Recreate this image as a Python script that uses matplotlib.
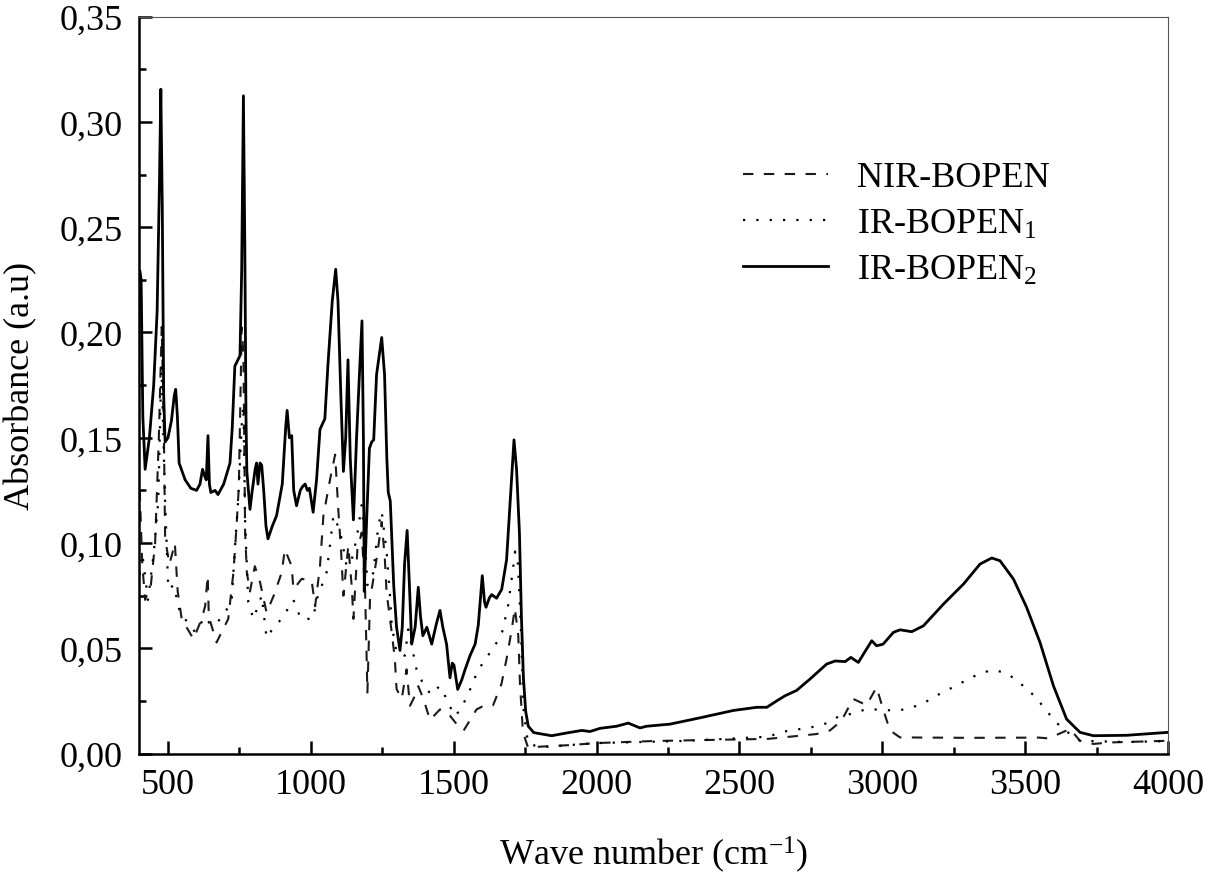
import numpy as np
import matplotlib
matplotlib.use("Agg")
import matplotlib.pyplot as plt
from matplotlib.ticker import MultipleLocator, FuncFormatter

plt.rcParams['font.family'] = ['Liberation Serif', 'DejaVu Serif']
plt.rcParams['mathtext.fontset'] = 'custom'
plt.rcParams['mathtext.rm'] = 'Liberation Serif'
plt.rcParams['mathtext.it'] = 'Liberation Serif:italic'

# IR-BOPEN2 (solid)
wn_ir2 = [402, 406, 412, 420, 435, 450, 462, 470, 475, 480, 485, 490, 500, 512, 522, 527, 533, 539,
          560, 580, 600, 612, 621, 628, 634, 640, 645, 650, 665, 675, 695, 717, 725, 734, 752, 758,
          764, 769, 773, 776, 787, 795, 805, 810, 815, 822, 828, 835, 843, 850, 865, 880, 900, 912,
          917, 925, 933, 940, 950, 963, 972, 980, 988, 995, 1008, 1020, 1032, 1049, 1060, 1075, 1087,
          1095, 1105, 1114, 1122, 1130, 1138, 1149, 1160, 1170, 1179, 1184, 1187, 1195, 1205, 1213,
          1220, 1230, 1248, 1258, 1266, 1271, 1278, 1290, 1300, 1312, 1320, 1328, 1337, 1345, 1353,
          1365, 1376, 1384, 1392, 1406, 1423, 1440, 1452, 1462, 1475, 1487, 1495, 1501, 1514, 1528,
          1540, 1557, 1575, 1586, 1600, 1608, 1613, 1625, 1633, 1650, 1668, 1685, 1700, 1711, 1720,
          1730, 1737, 1744, 1752, 1761, 1780, 1800, 1843, 1895, 1948, 1977, 2012, 2070, 2111, 2152,
          2175, 2257, 2362, 2479, 2561, 2596, 2630, 2660, 2700, 2747, 2805, 2835, 2870, 2890, 2916,
          2963, 2980, 3003, 3039, 3062, 3103, 3144, 3214, 3284, 3342, 3383, 3412, 3459, 3505, 3552,
          3599, 3645, 3692, 3739, 3855, 4000]
abs_ir2 = [0.229, 0.225, 0.160, 0.135, 0.150, 0.175, 0.210, 0.270, 0.3155, 0.260, 0.170, 0.148, 0.150,
           0.158, 0.170, 0.173, 0.160, 0.138, 0.130, 0.126, 0.125, 0.128, 0.135, 0.132, 0.130, 0.151,
           0.128, 0.124, 0.125, 0.123, 0.128, 0.138, 0.155, 0.184, 0.189, 0.230, 0.3124, 0.240, 0.160,
           0.134, 0.116, 0.125, 0.135, 0.138, 0.128, 0.138, 0.137, 0.125, 0.108, 0.102, 0.108, 0.113,
           0.128, 0.155, 0.163, 0.150, 0.151, 0.125, 0.1177, 0.125, 0.127, 0.128, 0.125, 0.126, 0.1146,
           0.130, 0.154, 0.159, 0.185, 0.215, 0.230, 0.215, 0.170, 0.134, 0.150, 0.187, 0.140, 0.111,
           0.150, 0.180, 0.2055, 0.150, 0.077, 0.110, 0.145, 0.148, 0.149, 0.180, 0.1976, 0.180, 0.140,
           0.124, 0.120, 0.080, 0.060, 0.049, 0.060, 0.090, 0.106, 0.080, 0.052, 0.060, 0.079, 0.065,
           0.056, 0.060, 0.052, 0.062, 0.068, 0.060, 0.052, 0.036, 0.043, 0.042, 0.0305, 0.035, 0.040,
           0.0465, 0.052, 0.061, 0.0845, 0.072, 0.0695, 0.074, 0.0755, 0.0738, 0.078, 0.092, 0.125,
           0.149, 0.135, 0.105, 0.065, 0.036, 0.020, 0.013, 0.010, 0.0095, 0.0085, 0.0098, 0.011,
           0.0105, 0.012, 0.013, 0.0145, 0.0122, 0.013, 0.014, 0.017, 0.0205, 0.022, 0.022, 0.025,
           0.0275, 0.030, 0.0354, 0.0425, 0.044, 0.0437, 0.0457, 0.0433, 0.0536, 0.0512, 0.052, 0.0576,
           0.0588, 0.0579, 0.0607, 0.071, 0.0805, 0.090, 0.0929, 0.0916, 0.0829, 0.0695, 0.0528,
           0.0322, 0.0164, 0.0101, 0.0085, 0.0087, 0.0101]

# NIR-BOPEN (dashed)
wn_nir = [401, 410, 420, 440, 455, 468, 478, 485, 490, 505, 515, 524, 534, 548, 589, 618, 630, 639,
          643, 670, 711, 729, 740, 748, 758, 764, 770, 776, 787, 804, 822, 845, 870, 898, 909, 933,
          939, 968, 1003, 1015, 1032, 1044, 1067, 1085, 1096, 1106, 1114, 1131, 1143, 1149, 1163,
          1178, 1190, 1198, 1207, 1230, 1248, 1259, 1265, 1283, 1294, 1300, 1318, 1335, 1347, 1370,
          1376, 1394, 1417, 1452, 1487, 1522, 1535, 1580, 1609, 1638, 1667, 1685, 1702, 1714, 1726,
          1732, 1741, 1750, 1760, 1900, 2000, 2200, 2400, 2600, 2689, 2770, 2817, 2857, 2898, 2945,
          2980, 3003, 3027, 3062, 3300, 3550, 3582, 3657, 3692, 3739, 3797, 4000]
abs_nir = [0.125, 0.090, 0.073, 0.080, 0.100, 0.150, 0.2026, 0.160, 0.102, 0.090, 0.095, 0.100, 0.077,
           0.064, 0.0544, 0.064, 0.070, 0.0845, 0.065, 0.0528, 0.064, 0.086, 0.108, 0.127, 0.2024,
           0.190, 0.105, 0.086, 0.077, 0.089, 0.0815, 0.067, 0.075, 0.086, 0.097, 0.089, 0.078, 0.083,
           0.082, 0.070, 0.089, 0.113, 0.130, 0.142, 0.116, 0.0957, 0.075, 0.0987, 0.0797, 0.064,
           0.097, 0.105, 0.0767, 0.029, 0.073, 0.0924, 0.110, 0.0924, 0.0767, 0.0576, 0.045, 0.0307,
           0.026, 0.040, 0.0227, 0.029, 0.032, 0.026, 0.016, 0.021, 0.018, 0.012, 0.011, 0.021, 0.023,
           0.023, 0.033, 0.045, 0.058, 0.069, 0.056, 0.033, 0.013, 0.007, 0.003, 0.004, 0.005, 0.006,
           0.0065, 0.007, 0.0082, 0.0093, 0.011, 0.0156, 0.026, 0.023, 0.0315, 0.021, 0.011, 0.0077,
           0.0075, 0.0076, 0.0072, 0.0117, 0.0061, 0.0046, 0.0053, 0.0061]

# IR-BOPEN1 (dotted)
wn_ir1 = [401, 410, 430, 450, 466, 477, 490, 501, 520, 542, 595, 630, 645, 665, 700, 723, 735, 746,
          758, 764, 770, 781, 799, 828, 845, 870, 898, 939, 965, 1008, 1020, 1055, 1067, 1079, 1090,
          1108, 1125, 1143, 1160, 1178, 1190, 1198, 1219, 1236, 1248, 1265, 1277, 1283, 1300, 1329,
          1341, 1370, 1390, 1420, 1450, 1480, 1500, 1520, 1550, 1580, 1610, 1640, 1670, 1690, 1705,
          1715, 1725, 1735, 1745, 1760, 1800, 2000, 2300, 2600, 2652, 2752, 2805, 2852, 2898, 2945,
          3050, 3097, 3150, 3196, 3247, 3296, 3337, 3385, 3435, 3482, 3529, 3566, 3605, 3645, 3692,
          3855, 4000]
abs_ir1 = [0.085, 0.095, 0.073, 0.095, 0.120, 0.185, 0.120, 0.078, 0.080, 0.067, 0.0577, 0.065,
           0.062, 0.061, 0.067, 0.073, 0.099, 0.121, 0.156, 0.165, 0.110, 0.072, 0.064, 0.075, 0.055,
           0.060, 0.064, 0.073, 0.064, 0.064, 0.073, 0.086, 0.099, 0.113, 0.110, 0.102, 0.089, 0.092,
           0.102, 0.118, 0.100, 0.080, 0.086, 0.108, 0.115, 0.096, 0.075, 0.061, 0.048, 0.0465, 0.059,
           0.040, 0.034, 0.028, 0.032, 0.025, 0.018, 0.020, 0.028, 0.038, 0.045, 0.050, 0.058, 0.070,
           0.085, 0.096, 0.090, 0.060, 0.020, 0.005, 0.003, 0.005, 0.006, 0.008, 0.0104, 0.0125,
           0.0144, 0.018, 0.019, 0.0212, 0.0204, 0.0215, 0.0244, 0.028, 0.0315, 0.035, 0.0378, 0.0398,
           0.0383, 0.0335, 0.0278, 0.022, 0.0152, 0.0105, 0.0061, 0.0055, 0.006]

fig = plt.figure(figsize=(12.07, 8.79), dpi=100)
ax = fig.add_axes([0.1155, 0.1415, 0.8522, 0.8385])

ax.plot(wn_nir, abs_nir, color='#1a1a1a', lw=1.5, linestyle=(0, (5, 5)), label='NIR-BOPEN')
ax.plot(wn_ir1, abs_ir1, color='black', lw=1.6, linestyle=(0, (1, 5)), label='IR-BOPEN$_1$')
ax.plot(wn_ir2, abs_ir2, color='black', lw=2.0, label='IR-BOPEN$_2$')

ax.set_xlim(400, 4000)
ax.set_ylim(0, 0.35)
ax.xaxis.set_major_locator(MultipleLocator(500))
ax.xaxis.set_minor_locator(MultipleLocator(250))
ax.yaxis.set_major_locator(MultipleLocator(0.05))
ax.yaxis.set_minor_locator(MultipleLocator(0.025))
ax.yaxis.set_major_formatter(FuncFormatter(lambda v, p: f"{v:.2f}".replace('.', ',')))

ax.tick_params(which='both', direction='in', top=False, right=False, labelsize=26, width=1.8)
ax.tick_params(which='major', length=9.5)
ax.tick_params(which='minor', length=5)
ax.tick_params(axis='y', pad=12)
ax.tick_params(axis='x', pad=10)

for s in ['left', 'bottom']:
    ax.spines[s].set_linewidth(1.8)
for s in ['top', 'right']:
    ax.spines[s].set_linewidth(0.8)
    ax.spines[s].set_color('#555555')

ax.set_xlabel('Wave number (cm$^{-1}$)', fontsize=26, labelpad=24)
ax.set_ylabel('Absorbance (a.u)', fontsize=26, labelpad=16)

ax.legend(loc='upper left', bbox_to_anchor=(0.587, 0.804), frameon=False, fontsize=26,
          handlelength=2.36, handletextpad=0.8, labelspacing=0.36, borderpad=0, borderaxespad=0)

fig.savefig('out.png', dpi=100)
